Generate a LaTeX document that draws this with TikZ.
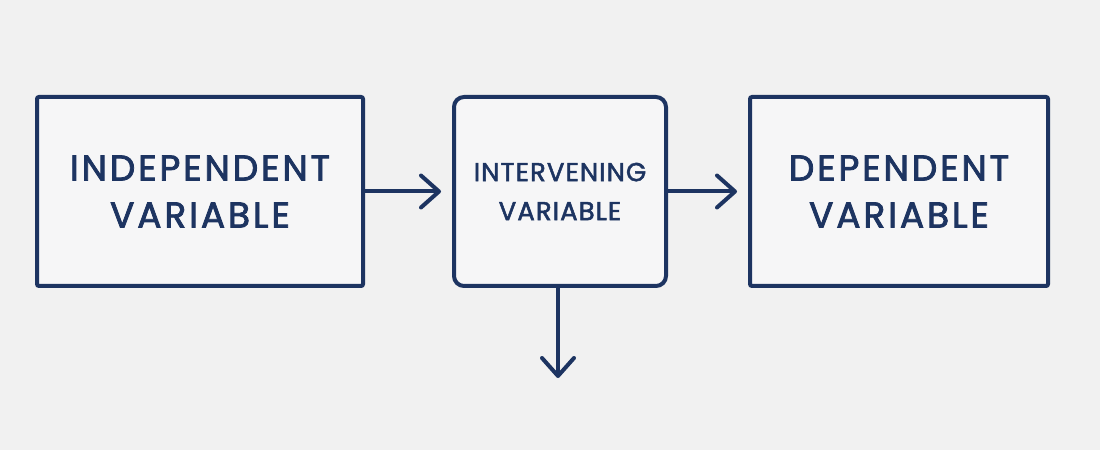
\documentclass[tikz,border=0pt]{standalone}
\usepackage{fontspec}
\setmainfont{Poppins}
\newfontfamily\bigboxfont[LetterSpace=8,FakeBold=2.2]{Poppins}
\newfontfamily\smallboxfont[LetterSpace=4,FakeBold=2]{Poppins}
\usetikzlibrary{arrows.meta}
\definecolor{navy}{HTML}{1D3461}
\definecolor{paper}{HTML}{F1F1F1}
\definecolor{boxfill}{HTML}{F6F6F7}

\tikzset{
  varbox/.style={draw=navy, fill=boxfill, line width=4pt, align=center,
                 text=navy, inner sep=0pt, minimum height=189pt, rounded corners=2pt},
  bigtext/.style={font=\bigboxfont\fontsize{36}{47}\selectfont},
  smalltext/.style={font=\smallboxfont\fontsize{26}{39}\selectfont},
  arr/.style={draw=navy, line width=4pt,
              -{Straight Barb[length=18pt,width=32pt,line cap=round,line join=round]}}
}

\begin{document}
\begin{tikzpicture}[x=1pt,y=1pt]
\fill[paper] (0,0) rectangle (1100,450);

\node[varbox, bigtext, minimum width=326pt] (indep) at (200,258.5)
  {INDEPENDENT\\VARIABLE};
\node[varbox, smalltext, minimum width=212pt, rounded corners=10pt] (interv) at (560,258.5)
  {INTERVENING\\VARIABLE};
\node[varbox, bigtext, minimum width=298pt] (dep) at (899,258.5)
  {DEPENDENT\\VARIABLE};

\coordinate (below) at (558,72);

\draw[arr, shorten >=11pt] (indep) -- (interv);
\draw[arr, shorten >=11pt] (interv) -- (dep);
\draw[arr] (interv.south -| below) -- (below);
\end{tikzpicture}
\end{document}
